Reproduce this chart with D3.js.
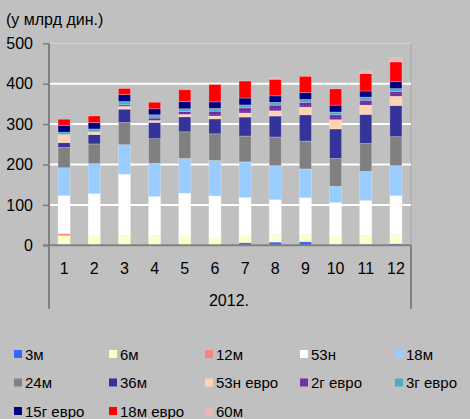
<!DOCTYPE html>
<html><head><meta charset="utf-8">
<script src="https://cdn.jsdelivr.net/npm/d3@7"></script>
<style>
html,body{margin:0;padding:0;background:#C0C0C0;}
svg{display:block;font-family:"Liberation Sans",Arial,sans-serif;}
</style></head>
<body><svg id="c" width="470" height="419"></svg>
<script>
const months = ["1","2","3","4","5","6","7","8","9","10","11","12"];
const yearLabel = "2012.";
const unitLabel = "(у млрд дин.)";
const yTicks = [0,100,200,300,400,500];
const seriesNames = ["3м","6м","12м","53н","18м","24м","36м","53н евро","2г евро","3г евро","15г евро","18м евро","60м"];
const seriesColors = ["#3366FF","#FFFFCC","#FF8080","#FFFFFF","#99CCFF","#808080","#333399","#FFD3B2","url(#purpDots)","#4BACC6","#000080","#FF0000","#E6B8B7"];

const m3     = [0,0,0,0,0,0,6.5,8,9,0,2,4];
const m6     = [24,24,25,24,23,18,19,19,18,23,23,23];
const m12    = [5,0,0,0,0,0,0,0,0,0,0,0];
const n53    = [94,104,151,97,106,104,93,86,91,83,86,96];
const m18    = [69,74,73,82,86,88,88,84,71,40,72,74];
const m24    = [50,49,55,61,66,66,64,71,69,69,69,72];
const m36    = [12,23,33,40,37,37,47,52,65,73,72,77];
const n53eur = [20,7,7,5,6,7,10,13,19,23,23,23];
const g2eur  = [0,0,4,6,7,12,13,14,12,12,12,12];
const g3eur  = [6,7,8,8,7,7,7,7,7,7,8,7];
const g15eur = [17,16,17,15,18,16,17,16,17,17,15,17];
const m18eur = [15,16,15,16,29,43,42,41,40,40,43,49];
const m60    = [0,0,0,0,0,0,0,3,0,0,7,10];

const seriesValues = [m3,m6,m12,n53,m18,m24,m36,n53eur,g2eur,g3eur,g15eur,m18eur,m60];

const rows = months.map((m,i)=>{
  const r = {month:m};
  seriesNames.forEach((s,j)=>{ r[s] = seriesValues[j][i]; });
  return r;
});

const svg = d3.select("#c");
const defs = svg.append("defs");
const pat = defs.append("pattern").attr("id","purpDots").attr("patternUnits","userSpaceOnUse")
  .attr("width",3).attr("height",3);
pat.append("rect").attr("width",3).attr("height",3).attr("fill","#7030A0");
pat.append("rect").attr("x",0).attr("y",0).attr("width",1).attr("height",1).attr("fill","#8E4CC0");
pat.append("rect").attr("x",1.5).attr("y",1.5).attr("width",1).attr("height",1).attr("fill","#5E2490");

const L = 49, R = 411, T = 43.3, B = 245.3;
const x = d3.scaleBand().domain(months).range([L,R]).paddingInner(0.6).paddingOuter(0.3);
const y = d3.scaleLinear().domain([0,500]).range([B,T]);

// plot border (top/right)
svg.append("line").attr("x1",L).attr("x2",R).attr("y1",T).attr("y2",T).attr("stroke","#D6D6D6").attr("stroke-width",1);
svg.append("line").attr("x1",R).attr("x2",R).attr("y1",T).attr("y2",B).attr("stroke","#A6A6A6").attr("stroke-width",1);

// gridlines
svg.append("g").selectAll("line").data(yTicks.filter(t=>t>0 && t<500)).join("line")
  .attr("x1",L).attr("x2",R).attr("y1",d=>y(d)).attr("y2",d=>y(d))
  .attr("stroke","#FFFFFF").attr("stroke-width",2);

// stacked bars
const stack = d3.stack().keys(seriesNames)(rows);
svg.append("g").selectAll("g").data(stack).join("g")
  .attr("fill",(d,i)=>seriesColors[i])
  .selectAll("rect").data(d=>d.filter(p=>p[1]-p[0]>0)).join("rect")
  .attr("x",d=>x(d.data.month))
  .attr("width",x.bandwidth())
  .attr("y",d=>y(d[1]))
  .attr("height",d=>y(d[0])-y(d[1]))
  .attr("stroke","rgba(255,255,255,0.3)").attr("stroke-width",0.8);

// y axis
const yAxis = svg.append("g").attr("transform",`translate(${L},0)`)
  .call(d3.axisLeft(y).tickValues(yTicks).tickSize(6).tickPadding(10).tickFormat(d3.format("d")));
yAxis.select(".domain").remove();
yAxis.selectAll(".tick line").attr("stroke","#808080").attr("stroke-width",1.5);
yAxis.selectAll("text").attr("font-size",16).attr("fill","#000").attr("font-family","Liberation Sans, Arial, sans-serif");
svg.append("line").attr("x1",L).attr("x2",L).attr("y1",T).attr("y2",309).attr("stroke","#808080").attr("stroke-width",2);
svg.append("line").attr("x1",R).attr("x2",R).attr("y1",B).attr("y2",309).attr("stroke","#808080").attr("stroke-width",2);

// x axis
const xAxis = svg.append("g").attr("transform",`translate(0,${B})`)
  .call(d3.axisBottom(x).tickSize(0).tickPadding(17));
xAxis.select(".domain").remove();
xAxis.selectAll("text").attr("font-size",16).attr("fill","#000").attr("font-family","Liberation Sans, Arial, sans-serif");
svg.append("line").attr("x1",L-6).attr("x2",R).attr("y1",B).attr("y2",B).attr("stroke","#808080").attr("stroke-width",2);

svg.append("text").attr("x",(L+R)/2-1).attr("y",305.5).attr("text-anchor","middle")
  .attr("font-size",16).text(yearLabel);
svg.append("text").attr("x",6).attr("y",25).attr("font-size",16).text(unitLabel);

// legend
const colX = [14,109,205,300,395];
const rowY = [354,382.5,411];
const lg = svg.append("g").selectAll("g").data(seriesNames).join("g")
  .attr("transform",(d,i)=>`translate(${colX[i%5]},${rowY[Math.floor(i/5)]})`);
lg.append("rect").attr("x",0).attr("y",-4).attr("width",8).attr("height",8)
  .attr("fill",(d,i)=>seriesColors[i]);
lg.append("text").attr("x",11).attr("y",5.5).attr("font-size",15).text(d=>d);
</script></body></html>
